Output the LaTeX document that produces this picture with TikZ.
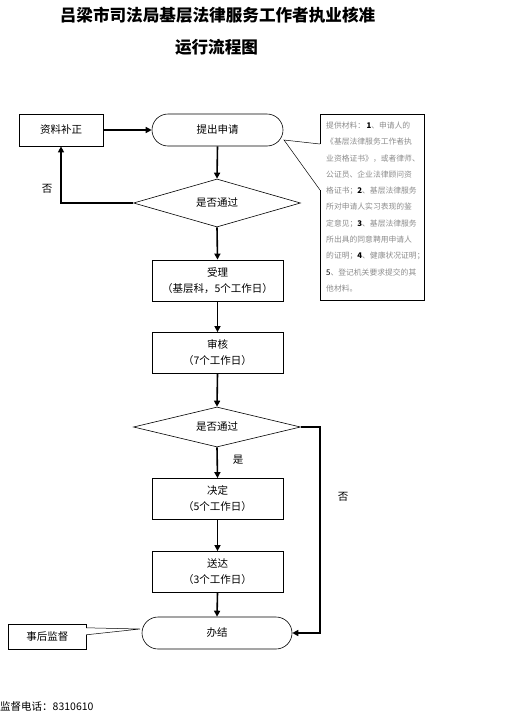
\documentclass[tikz,border=0pt]{standalone}
\usepackage{fontspec}
\setmainfont{Noto Sans CJK SC}
\usetikzlibrary{arrows.meta,shapes.geometric,calc}
\definecolor{notegray}{gray}{0.55}
\begin{document}
\begin{tikzpicture}[x=1pt,y=-1pt,
  box/.style={draw,line width=0.8pt,minimum width=131pt,minimum height=41pt,inner sep=0pt,align=center,font=\fontsize{10.5}{16}\selectfont},
  term/.style={draw,line width=0.6pt,rounded corners=16pt,minimum height=32pt,inner sep=0pt,font=\fontsize{10.5}{12}\selectfont},
  dec/.style={draw,diamond,aspect=3.5,line width=0.6pt,inner sep=0pt,minimum width=167pt,font=\fontsize{10.5}{12}\selectfont},
  flow/.style={line width=1.6pt,-{Triangle[length=6pt,width=6pt]}},
  lbl/.style={inner sep=0pt,font=\fontsize{10.5}{12}\selectfont},
  thin/.style={line width=0.5pt},
]
\useasboundingbox (0,0) rectangle (512,715);

% titles
\node[inner sep=0pt,font=\fontsize{16.6}{18}\selectfont\bfseries] (t1) at (217.5,15) {吕梁市司法局基层法律服务工作者执业核准};
\node[inner sep=0pt,font=\fontsize{16.6}{18}\selectfont\bfseries] (t2) at (216.5,47) {运行流程图};

% nodes
\node[box,minimum width=84pt,minimum height=32pt] (fix) at (61,130) {资料补正};
\node[term,minimum width=131pt] (apply) at (217.5,130) {提出申请};
\node[dec,minimum height=48pt] (d1) at (217,203) {是否通过};
\node[box] (accept) at (217.5,280.5) {受理\\（基层科，5个工作日）};
\node[box] (review) at (217.5,353) {审核\\（7个工作日）};
\node[dec,minimum height=40pt] (d2) at (217,427) {是否通过};
\node[box] (decide) at (217.5,499) {决定\\（5个工作日）};
\node[box] (deliver) at (217.5,572) {送达\\（3个工作日）};
\node[term,minimum width=150pt] (done) at (217,633) {办结};
\node[inner sep=0pt,minimum width=77pt,minimum height=24pt,font=\fontsize{10.5}{12}\selectfont] (sup) at (47.5,637) {事后监督};

% note callout
\coordinate (nNW) at (320,114);
\coordinate (nNE) at (424,114);
\coordinate (nSE) at (424,300);
\coordinate (nSW) at (320,300);
\node[anchor=west,inner sep=0pt,align=left,text=notegray,font=\fontsize{7.8}{16.3}\selectfont] (note) at (326,207)
{提供材料：\,\textcolor{black}{\textbf{1}}、申请人的\\
《基层法律服务工作者执\\
业资格证书》，或者律师、\\
公证员、企业法律顾问资\\
格证书；\textcolor{black}{\textbf{2}}、基层法律服务\\
所对申请人实习表现的鉴\\
定意见；\textcolor{black}{\textbf{3}}、基层法律服务\\
所出具的同意聘用申请人\\
的证明；\textcolor{black}{\textbf{4}}、健康状况证明；\\
\textcolor{black}{5}、登记机关要求提交的其\\
他材料。};
\coordinate (tip1) at (284,140);
\draw[line width=0.9pt] ($(nNW)+(0,30)$) -- (nNW) -- (nNE) -- (nSE) -- (nSW) -- ($(nNW)+(0,76)$);
\draw[thin] ($(nNW)+(0,30)$) -- (tip1) -- ($(nNW)+(0,76)$);

% supervision callout
\coordinate (tip2) at (140,629);
\draw[line width=0.8pt] ($(sup.north east)+(0,3)$) -- (sup.north east) -- (sup.north west) -- (sup.south west) -- (sup.south east) -- ($(sup.north east)+(0,10)$);
\draw[thin] ($(sup.north east)+(0,3)$) -- (tip2) -- ($(sup.north east)+(0,10)$);

% connectors
\draw[flow] (fix.east) -- (apply.west);
\draw[flow] (apply.south) -- (d1.north);
\draw[flow] (d1.west) -| (fix.south);
\draw[flow] (d1.south) -- (accept.north);
\draw[flow] (accept.south) -- (review.north);
\draw[flow] (review.south) -- (d2.north);
\draw[flow] (d2.south) -- (decide.north);
\draw[flow] (decide.south) -- (deliver.north);
\draw[flow] (deliver.south) -- (done.north);
\coordinate (rt) at (320,427);
\draw[flow] (d2.east) -- (rt) |- (done.east);

% labels
\node[lbl] (no1) at (47,189) {否};
\node[lbl] (yes) at (238,460) {是};
\node[lbl] (no2) at (343,497) {否};

% footer
\node[anchor=west,inner sep=0pt,font=\fontsize{10.5}{12}\selectfont] (tel) at (0,706) {监督电话：8310610};
\end{tikzpicture}
\end{document}
